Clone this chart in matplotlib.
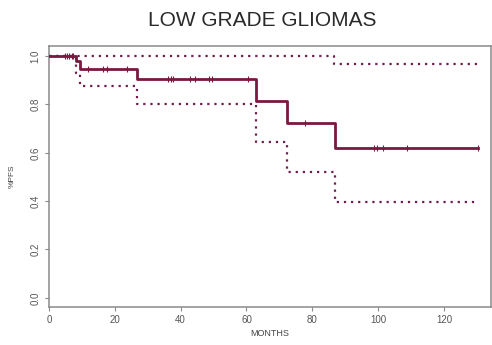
import numpy as np
import matplotlib.pyplot as plt

# Kaplan-Meier estimate (months, survival) with 95% bounds
surv_t = [0, 8.3, 9.5, 26.6, 62.8, 72.4, 87.0, 130.4]
surv_v = [1.0, 0.978, 0.945, 0.904, 0.816, 0.724, 0.619, 0.619]

upper_t = [0, 86.5, 130.0]
upper_v = [1.0, 0.968, 0.968]

lower_t = [0, 8.3, 9.5, 26.6, 62.8, 72.4, 87.0, 129.5]
lower_v = [1.0, 0.93, 0.876, 0.804, 0.644, 0.522, 0.395, 0.395]

censor_t = [4.9, 5.6, 6.2, 6.9, 7.4, 11.9, 16.5, 17.5, 23.6, 36.3, 37.0, 37.8,
            42.9, 44.4, 48.7, 49.5, 60.6, 77.8, 98.8, 99.6, 101.6, 108.9, 130.4]

xticks = [0, 20, 40, 60, 80, 100, 120]
yticks = [0.0, 0.2, 0.4, 0.6, 0.8, 1.0]

plt.rcParams['font.family'] = ['Liberation Sans', 'DejaVu Sans']

fig = plt.figure(figsize=(4.92, 3.45), dpi=100)
ax = fig.add_axes([49 / 492, 38 / 345, 442 / 492, 261 / 345])

line_col = '#7a1840'
ci_col = '#6e1d4c'

ax.plot(surv_t, surv_v, drawstyle='steps-post', color=line_col, lw=2.0, zorder=3)
idx = np.searchsorted(surv_t, censor_t, side='right') - 1
ax.plot(censor_t, np.array(surv_v)[idx], ls='none', marker='|', ms=5,
        mew=0.8, color=line_col, zorder=4)

for t, v in [(upper_t, upper_v), (lower_t, lower_v)]:
    ax.plot(t, v, drawstyle='steps-post', color=ci_col, lw=1.6,
            ls=(0, (1, 2.2)), dash_capstyle='butt', zorder=2)

ax.set_xlim(0, 134.3)
ax.set_ylim(-0.038, 1.042)
ax.set_xticks(xticks)
ax.set_xticklabels([str(x) for x in xticks])
ax.set_yticks(yticks)
ax.set_yticklabels([f'{y:.1f}' for y in yticks], rotation=90, va='center')

for s in ax.spines.values():
    s.set_color('#8a8a8a')
    s.set_linewidth(1.1)
ax.tick_params(colors='#8a8a8a', labelcolor='#555555', labelsize=7,
               length=3, width=0.8, pad=3)

ax.set_xlabel('MONTHS', fontsize=6.5, color='#444444', labelpad=3)
ax.set_ylabel('%PFS', fontsize=6, color='#444444', labelpad=11)
fig.text(262 / 492, 1 - 20 / 345, 'LOW GRADE GLIOMAS', ha='center', va='center',
         fontsize=15, color='#2a2a2a')

fig.savefig('out.png', dpi=100)
